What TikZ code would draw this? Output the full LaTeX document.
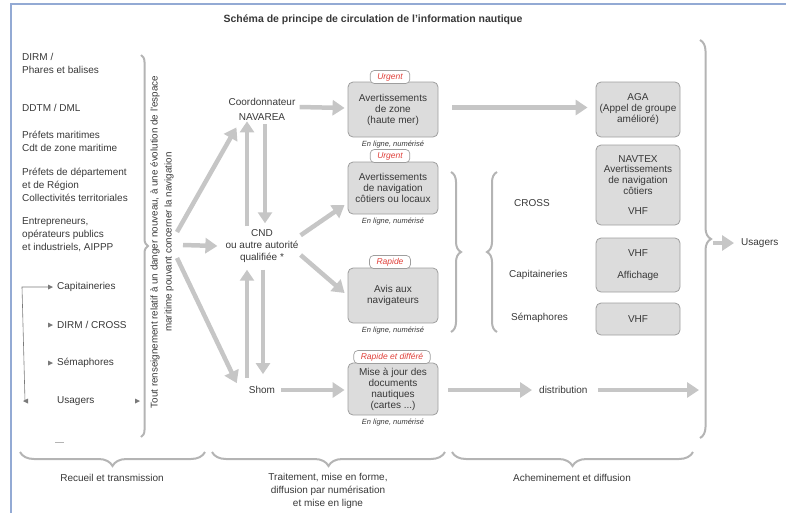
\documentclass[tikz,border=0pt]{standalone}
\usepackage{fontspec}
\setmainfont{Liberation Sans}
\usetikzlibrary{arrows.meta,decorations.pathreplacing}
\definecolor{txt}{HTML}{383838}
\definecolor{arr}{HTML}{C6C6C6}
\definecolor{bfill}{HTML}{DCDCDC}
\definecolor{bline}{HTML}{9E9E9E}
\definecolor{brc}{HTML}{B4B4B4}
\definecolor{framec}{HTML}{93AAD4}
\definecolor{tagred}{HTML}{E0403A}
\definecolor{lcol}{HTML}{7A7A7A}
\begin{document}
\begin{tikzpicture}[x=1pt,y=-1pt,
  every node/.style={text=txt, font=\fontsize{10}{13}\selectfont, inner sep=0pt},
  lbl/.style={anchor=west, align=left},
  ctr/.style={align=center},
  gbox/.style={draw=bline, fill=bfill, rounded corners=5pt, line width=0.8pt, align=center, minimum width=90pt, font=\fontsize{10}{11}\selectfont},
  rbox/.style={gbox, minimum width=84pt},
  tagbox/.style={draw=bline, fill=white, rounded corners=4pt, line width=0.7pt, text=tagred, font=\fontsize{8.5}{9}\selectfont\itshape, inner xsep=7pt, minimum height=13pt},
  note/.style={font=\fontsize{7.5}{8}\selectfont\itshape},
  garrow/.style={draw=arr, line width=4.5pt, -{Triangle[length=12pt,width=15pt]}},
  varrow/.style={draw=arr, line width=4pt, -{Triangle[length=11pt,width=14pt]}},
  bracestyle/.style={draw=brc, line width=2pt, decorate, decoration={brace, amplitude=#1}},
  lline/.style={draw=lcol, line width=0.6pt},
  tri/.style={fill=lcol}
]
\useasboundingbox (0,0) rectangle (786,512);
\clip (0,0) rectangle (786,512);
% frame
\draw[framec, line width=1.5pt] (11,520) -- (11,4) -- (800,4);

% title
\node[font=\bfseries\fontsize{10.5}{12}\selectfont] (title) at (373,20) {Schéma de principe de circulation de l'information nautique};

% left sources
\node[lbl] (dirm) at (22,63.5) {DIRM /\\Phares et balises};
\node[lbl] (ddtm) at (22,108) {DDTM / DML};
\node[lbl] (prefm) at (22,141) {Préfets maritimes\\Cdt de zone maritime};
\node[lbl] (prefd) at (22,185) {Préfets de département\\et de Région\\Collectivités territoriales};
\node[lbl] (entr) at (22,235) {Entrepreneurs,\\opérateurs publics\\et industriels, AIPPP};

\node[lbl] (capL) at (57,287) {Capitaineries};
\node[lbl] (crossL) at (57,325) {DIRM / CROSS};
\node[lbl] (semL) at (57,363) {Sémaphores};
\node[lbl] (usL) at (57,401) {Usagers};
\draw[lline] ([shift={(-32,0)}]usL.west) -- ([shift={(-35,0)}]capL.west) -- ([shift={(-8,0)}]capL.west);
\fill[tri] ([shift={(-4,0)}]capL.west) -- ++(-5,-2.5) -- ++(0,5) -- cycle;
\fill[tri] ([shift={(-4,0)}]crossL.west) -- ++(-5,-2.5) -- ++(0,5) -- cycle;
\fill[tri] ([shift={(-4,0)}]semL.west) -- ++(-5,-2.5) -- ++(0,5) -- cycle;
\fill[tri] ([shift={(-34,0)}]usL.west) -- ++(5,-2.5) -- ++(0,5) -- cycle;
\fill[tri] ([shift={(83,0)}]usL.west) -- ++(-5,-2.5) -- ++(0,5) -- cycle;
\draw[brc, line width=1pt] (55,442) -- (64,442);

% left big brace and rotated text
\draw[bracestyle=7pt] (141,55) -- (141,437);
\node[rotate=90, align=center, font=\fontsize{9.8}{14}\selectfont] (rtext) at (162,242) {Tout renseignement relatif à un danger nouveau, à une évolution de l'espace\\maritime pouvant concerner la navigation};

% middle column
\node[ctr, font=\fontsize{10}{15}\selectfont] (coord) at (262,109) {Coordonnateur\\NAVAREA};
\node[ctr, font=\fontsize{10}{12}\selectfont] (cnd) at (262,246) {CND\\ou autre autorité\\qualifiée *};
\node (shom) at (262,390) {Shom};

\coordinate (s1) at (177,232);
\coordinate (s2) at (183,245);
\coordinate (s3) at (177,258);
\draw[garrow] (s1) -- ([shift={(8,7)}]coord.south west);
\draw[garrow] (s2) -- ([shift={(-8,0)}]cnd.west);
\draw[garrow] (s3) -- ([shift={(-12,-3)}]shom.north west);

\draw[varrow] ([shift={(-15,-3)}]cnd.north) -- ([shift={(-15,1)}]coord.south);
\draw[varrow] ([shift={(3,4)}]coord.south) -- ([shift={(3,-6)}]cnd.north);
\draw[varrow] ([shift={(-15,-8)}]shom.north) -- ([shift={(-15,7)}]cnd.south);
\draw[varrow] ([shift={(1,7)}]cnd.south) -- ([shift={(1,-12)}]shom.north);

% boxes column 1
\node[gbox, minimum height=55pt] (b1) at (393,109.5) {Avertissements\\de zone\\(haute mer)};
\node[tagbox] (t1) at (390,77) {Urgent};
\node[note] (n1) at (393,145) {En ligne, numérisé};

\node[gbox, minimum height=52pt] (b2) at (393,188) {Avertissements\\de navigation\\côtiers ou locaux};
\node[tagbox] (t2) at (390,156) {Urgent};
\node[note] (n2) at (393,222) {En ligne, numérisé};

\node[gbox, minimum height=55pt] (b3) at (393,295.5) {Avis aux\\navigateurs};
\node[tagbox] (t3) at (390,262) {Rapide};
\node[note] (n3) at (393,331) {En ligne, numérisé};

\node[gbox, minimum height=52pt] (b4) at (393,389) {Mise à jour des\\documents\\nautiques\\(cartes ...)};
\node[tagbox] (t4) at (392,357) {Rapide et différé};
\node[note] (n4) at (393,423) {En ligne, numérisé};

\draw[garrow] ([shift={(4,-2)}]coord.east) -- ([shift={(-3,-1.5)}]b1.west);
\draw[garrow] ([shift={(2,6)}]cnd.north east) -- ([shift={(-3,17)}]b2.west);
\draw[garrow] ([shift={(2,9)}]cnd.east) -- ([shift={(-3,-2.5)}]b3.west);
\draw[garrow] ([shift={(6,0)}]shom.east) -- ([shift={(-3,1)}]b4.west);

% middle braces and labels
\draw[bracestyle=10pt] (451,172) -- (451,332);
\draw[bracestyle=10pt] (497,332) -- (497,172);
\node[lbl] (crossR) at (514,203) {CROSS};
\node[lbl] (capR) at (509,275) {Capitaineries};
\node[lbl] (semR) at (511,318) {Sémaphores};
\node[lbl] (distr) at (539,390) {distribution};

% right boxes
\node[rbox, minimum height=55pt] (aga) at (638,109.5) {AGA\\(Appel de groupe\\amélioré)};
\node[rbox, minimum height=80pt, font=\fontsize{10}{10.7}\selectfont] (navtex) at (638,185) {NAVTEX\\Avertissements\\de navigation\\côtiers\\[10pt]VHF};
\node[rbox, minimum height=54pt] (vhfa) at (638,265) {VHF\\[11pt]Affichage};
\node[rbox, minimum height=32pt] (vhf) at (638,319) {VHF};

\draw[garrow] ([shift={(14,-2)}]b1.east) -- ([shift={(-8,-2)}]aga.west);
\draw[garrow] ([shift={(10,1)}]b4.east) -- ([shift={(-7,0)}]distr.west);
\coordinate (rb) at (699,390);
\draw[garrow] ([shift={(10,0)}]distr.east) -- (rb);

% right brace and Usagers
\draw[bracestyle=11pt] (700,40) -- (700,438);
\node[lbl] (usR) at (741,243) {Usagers};
\coordinate (rbt) at (713,243);
\draw[garrow] (rbt) -- ([shift={(-7,0)}]usR.west);

% bottom braces
\draw[bracestyle=14pt] (205,452) -- (20,452);
\draw[bracestyle=14pt] (445,452) -- (212,452);
\draw[bracestyle=14pt] (693,452) -- (452,452);
\node (lab1) at (112,478) {Recueil et transmission};
\node[ctr] (lab2) at (328,491) {Traitement, mise en forme,\\diffusion par numérisation\\et mise en ligne};
\node (lab3) at (572,478) {Acheminement et diffusion};
\end{tikzpicture}
\end{document}
